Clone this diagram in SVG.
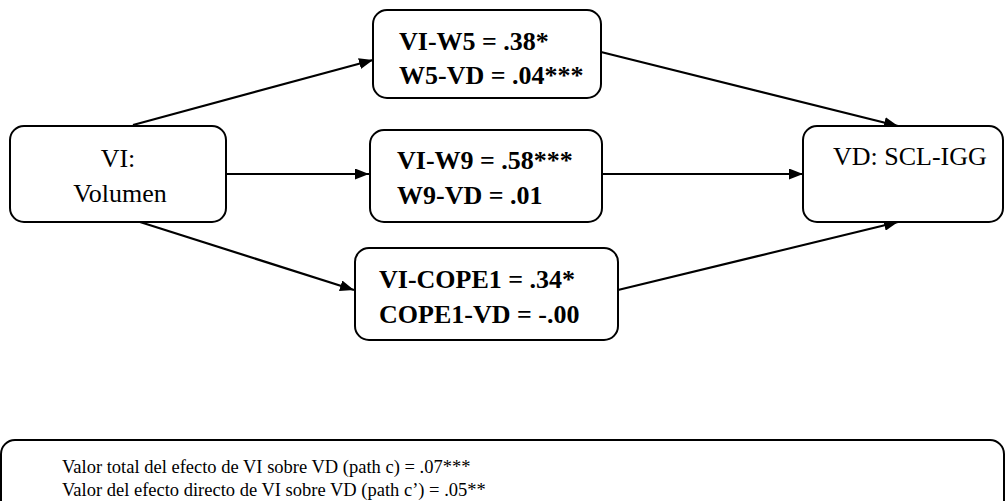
<svg xmlns="http://www.w3.org/2000/svg" width="1006" height="501" viewBox="0 0 1006 501">
<style>
.box{fill:#fff;stroke:#000;stroke-width:2}
.t{font-family:"Liberation Serif","Times New Roman",serif;font-size:26px;fill:#000}
.b{font-family:"Liberation Serif","Times New Roman",serif;font-size:26px;font-weight:bold;fill:#000}
.s{font-family:"Liberation Serif","Times New Roman",serif;font-size:18.5px;fill:#000}
.c{stroke:#000;stroke-width:2.2;fill:none;marker-end:url(#ah)}
</style>
<defs>
<marker id="ah" viewBox="0 0 14 11" refX="14" refY="5.5" markerWidth="14" markerHeight="11" markerUnits="userSpaceOnUse" orient="auto">
<path d="M0,0 L14,5.5 L0,11 Z" fill="#000"/>
</marker>
</defs>
<g id="connectors">
<line class="c" x1="133" y1="125" x2="373" y2="60"/>
<line class="c" x1="226" y1="174" x2="369" y2="174"/>
<line class="c" x1="140" y1="222" x2="354" y2="290"/>
<line class="c" x1="601" y1="52" x2="898" y2="126"/>
<line class="c" x1="602" y1="174" x2="803" y2="174"/>
<line class="c" x1="618" y1="290" x2="898" y2="222"/>
</g>
<g id="vi">
<rect class="box" x="10" y="126" width="216" height="96" rx="14"/>
<text class="t" x="118" y="167" text-anchor="middle">VI:</text>
<text class="t" x="120" y="202" text-anchor="middle">Volumen</text>
</g>
<g id="w5">
<rect class="box" x="373" y="10" width="228" height="88" rx="14"/>
<text class="b" x="399" y="50">VI-W5 = .38*</text>
<text class="b" x="399" y="84">W5-VD = .04***</text>
</g>
<g id="w9">
<rect class="box" x="370" y="130" width="232" height="92" rx="14"/>
<text class="b" x="397" y="169">VI-W9 = .58***</text>
<text class="b" x="397" y="204">W9-VD = .01</text>
</g>
<g id="cope">
<rect class="box" x="355" y="248" width="263" height="92" rx="14"/>
<text class="b" x="379" y="288">VI-COPE1 = .34*</text>
<text class="b" x="379" y="323">COPE1-VD = -.00</text>
</g>
<g id="vd">
<rect class="box" x="803" y="126" width="200" height="96" rx="14"/>
<text class="t" x="833" y="165">VD: SCL-IGG</text>
</g>
<g id="summary">
<rect class="box" x="1" y="440" width="1003" height="80" rx="14"/>
<text class="s" x="62" y="473">Valor total del efecto de VI sobre VD (path c) = .07***</text>
<text class="s" x="62" y="496">Valor del efecto directo de VI sobre VD (path c’) = .05**</text>
</g>
</svg>
